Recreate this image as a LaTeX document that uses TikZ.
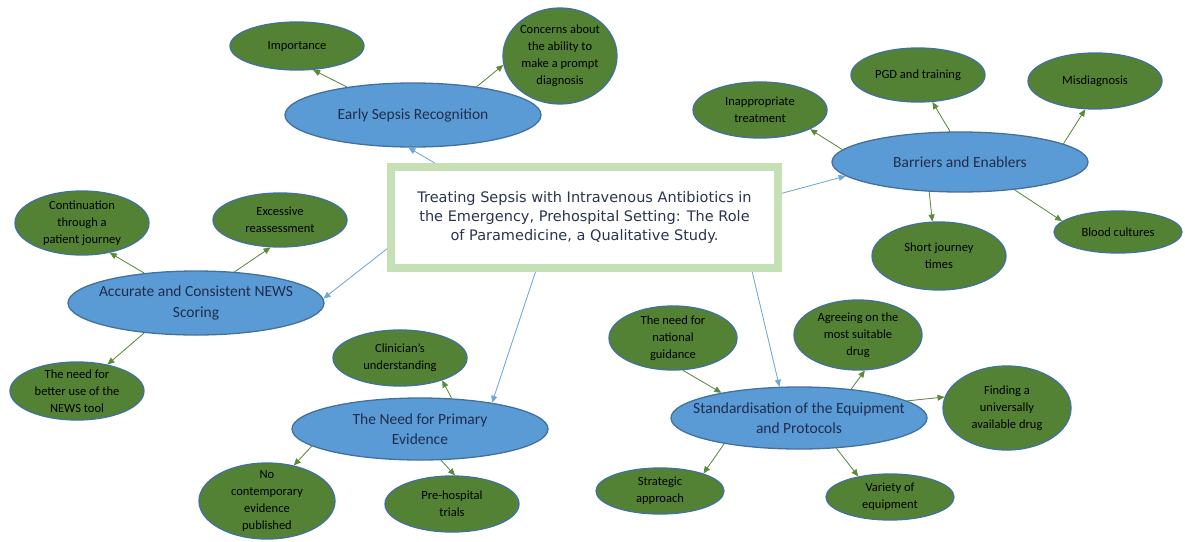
\documentclass[tikz,border=0pt]{standalone}
\usepackage{fontspec}
\setmainfont{Carlito}
\newfontfamily\titlefont{DejaVu Sans}
\usetikzlibrary{shapes.geometric,arrows.meta}
\definecolor{themeblue}{HTML}{5B9BD5}
\definecolor{ellborder}{HTML}{41719C}
\definecolor{subgreen}{HTML}{548235}
\definecolor{framegreen}{HTML}{C5E0B4}
\definecolor{themetext}{HTML}{1F2D4D}
\definecolor{titletext}{HTML}{2A3550}
\definecolor{linkblue}{HTML}{6FA6DA}
\definecolor{linkgreen}{HTML}{5A8A3A}
\begin{document}
\begin{tikzpicture}[x=1pt,y=-1pt,
    rad/.style 2 args={minimum width=2*#1,minimum height=2*#2},
    mainbox/.style={draw=framegreen,line width=8pt,fill=white,text=titletext,align=center,
      minimum width=387pt,minimum height=101pt,font=\titlefont\fontsize{14.5}{19}\selectfont},
    themeell/.style={ellipse,draw=ellborder,line width=1.3pt,fill=themeblue,text=themetext,
      align=center,inner xsep=-25pt,inner ysep=0pt,font=\fontsize{15.5}{20.5}\selectfont},
    subell/.style={ellipse,draw=ellborder,line width=1.3pt,fill=subgreen,text=black,
      align=center,inner xsep=-10pt,inner ysep=-8pt,font=\fontsize{12.5}{17}\selectfont},
    tolink/.style={-{Triangle[length=7pt,width=6pt]},draw=linkblue,fill=linkblue,line width=0.8pt},
    sublink/.style={-{Triangle[length=7pt,width=6pt]},draw=linkgreen,fill=linkgreen,line width=0.8pt}]
  \useasboundingbox (0,0) rectangle (1185,541);

  \node[mainbox] (title) at (584.5,217.5)
    {Treating Sepsis with Intravenous Antibiotics in\\the Emergency, Prehospital Setting: The Role\\of Paramedicine, a Qualitative Study.};

  \node[themeell,rad={128}{32}] (early) at (413,115) {Early Sepsis Recognition};
  \node[themeell,rad={128}{30}] (barriers) at (960,162) {Barriers and Enablers};
  \node[themeell,rad={128}{32}] (news) at (196,303) {Accurate and Consistent NEWS\\Scoring};
  \node[themeell,rad={128}{31}] (evidence) at (420,429) {The Need for Primary\\Evidence};
  \node[themeell,rad={128}{31}] (standard) at (799,418) {Standardisation of the Equipment\\and Protocols};

  \node[subell,rad={67}{24}] (importance) at (297,46) {Importance};
  \node[subell,rad={57}{48}] (concerns) at (560,56) {Concerns about\\the ability to\\make a prompt\\diagnosis};
  \node[subell,rad={67}{28}] (inapprop) at (760,110) {Inappropriate\\treatment};
  \node[subell,rad={67}{27}] (pgd) at (918,75) {PGD and training};
  \node[subell,rad={67}{28}] (misdiag) at (1095,81) {Misdiagnosis};
  \node[subell,rad={67}{34}] (journey) at (939,256) {Short journey\\times};
  \node[subell,rad={64}{21}] (cultures) at (1118,232) {Blood cultures};
  \node[subell,rad={67}{32}] (continuation) at (82,223) {Continuation\\through a\\patient journey};
  \node[subell,rad={67}{27}] (reassess) at (280,220) {Excessive\\reassessment};
  \node[subell,rad={67}{29}] (newstool) at (77,391) {The need for\\better use of the\\NEWS tool};
  \node[subell,rad={67}{28}] (clinician) at (400,358) {Clinician’s\\understanding};
  \node[subell,rad={68}{38}] (contemporary) at (267,501) {No\\contemporary\\evidence\\published};
  \node[subell,rad={67}{28}] (prehosp) at (452,504) {Pre-hospital\\trials};
  \node[subell,rad={64}{32}] (guidance) at (673,338) {The need for\\national\\guidance};
  \node[subell,rad={64}{35}] (agreeing) at (858,335) {Agreeing on the\\most suitable\\drug};
  \node[subell,rad={64}{42}] (finding) at (1007,408) {Finding a\\universally\\available drug};
  \node[subell,rad={64}{23}] (strategic) at (660,491) {Strategic\\approach};
  \node[subell,rad={64}{23}] (variety) at (890,497) {Variety of\\equipment};

  \draw[tolink] (title.160) -- (early.-98);
  \draw[tolink] (title.7) -- (barriers.-173);
  \draw[tolink] (title.-171) -- (news.2);
  \draw[tolink] (title.-132) -- (evidence.20);
  \draw[tolink] (title.-18) -- (standard.122);

  \draw[sublink] (early.157) -- (importance.-56);
  \draw[sublink] (early.24) -- (concerns.-171);
  \draw[sublink] (barriers.174) -- (inapprop.-21);
  \draw[sublink] (barriers.108) -- (pgd.-62);
  \draw[sublink] (barriers.10) -- (misdiag.-109);
  \draw[sublink] (barriers.-136) -- (journey.101);
  \draw[sublink] (barriers.-27) -- (cultures.169);
  \draw[sublink] (news.150) -- (continuation.-47);
  \draw[sublink] (news.39) -- (reassess.-109);
  \draw[sublink] (news.-150) -- (newstool.41);
  \draw[sublink] (evidence.44) -- (clinician.-28);
  \draw[sublink] (evidence.-171) -- (contemporary.53);
  \draw[sublink] (evidence.-56) -- (prehosp.84);
  \draw[sublink] (guidance.-73) -- (standard.162);
  \draw[sublink] (standard.29) -- (agreeing.-79);
  \draw[sublink] (standard.9) -- (finding.170);
  \draw[sublink] (standard.-161) -- (strategic.22);
  \draw[sublink] (standard.-39) -- (variety.147);
\end{tikzpicture}
\end{document}
